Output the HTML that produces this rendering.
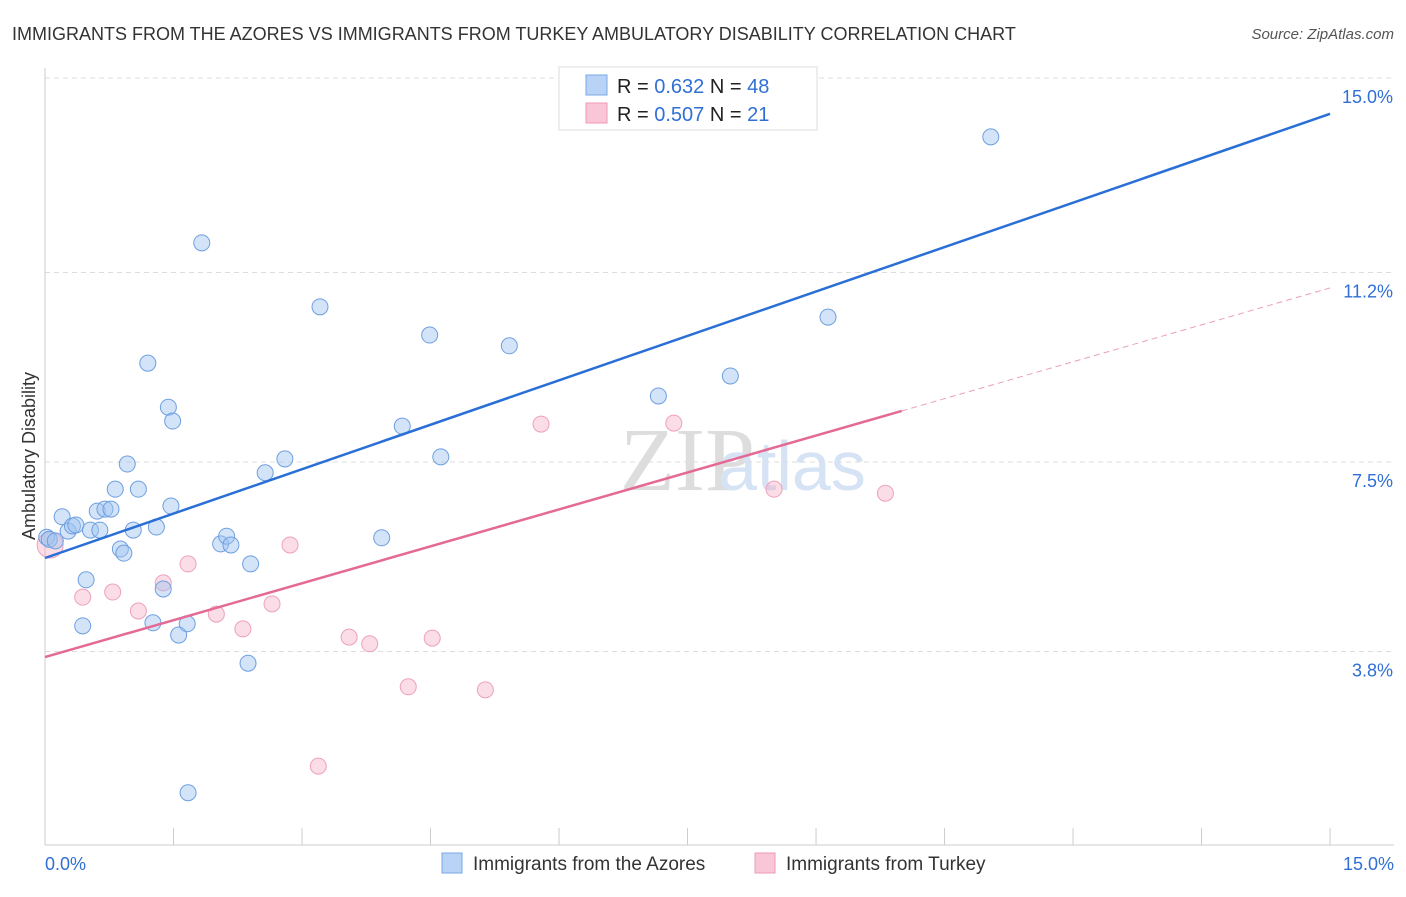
<!DOCTYPE html>
<html><head><meta charset="utf-8"><style>
body{margin:0;background:#fff;font-family:"Liberation Sans",sans-serif}
</style></head><body>
<svg id="c" width="1406" height="892" xmlns="http://www.w3.org/2000/svg" font-family="Liberation Sans, sans-serif">
<text x="12" y="40" font-size="18" fill="#333">IMMIGRANTS FROM THE AZORES VS IMMIGRANTS FROM TURKEY AMBULATORY DISABILITY CORRELATION CHART</text>
<text x="1394" y="39" font-size="15" fill="#555" font-style="italic" text-anchor="end">Source: ZipAtlas.com</text>
<text x="35" y="456" font-size="18" fill="#333" text-anchor="middle" transform="rotate(-90 35 456)">Ambulatory Disability</text>
<text x="620" y="490" font-size="90" fill="#ddd" font-family="Liberation Serif, serif">ZIP</text>
<text x="718" y="490" font-size="70" fill="#d5e3f5">atlas</text>
<g id="grid"></g><g id="pts"></g><g id="lines"></g>
<g>
<rect x="559" y="67" width="258" height="63" fill="#fff" stroke="#ddd"/>
<rect x="586" y="75" width="21" height="20" fill="#b8d3f5" stroke="#7aa8e5"/>
<rect x="586" y="103" width="21" height="20" fill="#f8c6d6" stroke="#ee9ab7"/>
<text x="617" y="93" font-size="20" fill="#222">R = <tspan fill="#2f6fd6">0.632</tspan>   N = <tspan fill="#2f6fd6">48</tspan></text>
<text x="617" y="121" font-size="20" fill="#222">R = <tspan fill="#2f6fd6">0.507</tspan>   N = <tspan fill="#2f6fd6"> 21</tspan></text>
</g>
<g>
<rect x="442" y="853" width="20" height="20" fill="#b8d3f5" stroke="#7aa8e5"/>
<text x="473" y="870" font-size="19" fill="#333">Immigrants from the Azores</text>
<rect x="755" y="853" width="20" height="20" fill="#f8c6d6" stroke="#ee9ab7"/>
<text x="786" y="870" font-size="19" fill="#333">Immigrants from Turkey</text>
</g>
</svg>
<script>
const yTicks=[15.0,11.2,7.5,3.8];
const yTickLabels=["15.0%","11.2%","7.5%","3.8%"];
const xTickLabels=["0.0%","15.0%"];
const blueX=[0.02,0.05,0.12,0.20,0.27,0.32,0.36,0.48,0.44,0.53,0.61,0.64,0.70,0.77,0.82,0.88,0.92,0.96,1.03,1.09,1.20,1.26,1.30,1.38,1.44,1.47,1.49,1.56,1.66,1.67,1.83,2.05,2.12,2.17,2.37,2.40,2.57,2.80,3.21,3.93,4.17,4.49,4.62,5.42,7.16,8.00,9.14,11.04];
const blueY=[6.03,5.99,5.96,6.43,6.15,6.25,6.27,5.20,4.30,6.17,6.54,6.17,6.58,6.58,6.97,5.80,5.72,7.46,6.17,6.97,9.43,4.36,6.23,5.02,8.57,6.64,8.30,4.12,4.34,1.04,11.78,5.90,6.05,5.88,3.57,5.51,7.29,7.56,10.53,6.02,8.20,9.98,7.60,9.77,8.79,9.18,10.33,13.85];
const pinkX=[0.06,0.44,0.79,1.09,1.38,1.67,2.00,2.31,2.65,2.86,3.19,3.55,3.79,4.24,4.52,5.14,5.79,7.34,7.86,8.51,9.81];
const pinkY=[5.88,4.86,4.96,4.59,5.14,5.51,4.53,4.24,4.73,5.88,1.56,4.08,3.95,3.11,4.06,3.05,8.24,8.26,14.51,6.97,6.89];
const blueLine=[5.625,14.30];
const pinkLine=[3.69,10.9];
const pinkSolidEnd=10.0;
const NS="http://www.w3.org/2000/svg";
const X=v=>45+v*85.67, Y=v=>78+(15-v)*51.2;
function mk(p,t,a){const e=document.createElementNS(NS,t);for(const k in a)e.setAttribute(k,a[k]);p.appendChild(e);return e;}
const g=document.getElementById('grid');
yTicks.forEach((t,i)=>{
 const l=mk(g,'line',{x1:45,x2:1394,y1:Y(t),y2:Y(t),stroke:'#ddd','stroke-dasharray':'5,4'});
 
 
 const tx=mk(g,'text',{x:1393,y:Y(t)+25,'font-size':18,fill:'#2f6fd6','text-anchor':'end'});
 tx.textContent=yTickLabels[i];
 
 
});
const ax=mk(g,'line',{x1:45,x2:1394,y1:845,y2:845,stroke:'#ccc'});


const ay=mk(g,'line',{x1:45,x2:45,y1:68,y2:845,stroke:'#ccc'});


for(let i=0;i<=10;i++){const x=X(i*1.5);const t=mk(g,'line',{x1:x,x2:x,y1:828,y2:845,stroke:'#ccc'});
 
 }
[[0,'start',45],[1,'end',1394]].forEach(([i,a,x])=>{const t=mk(g,'text',{x:x,y:870,'font-size':18,fill:'#2f6fd6','text-anchor':a});t.textContent=xTickLabels[i];
 
 });
const p=document.getElementById('pts');
pinkX.forEach((x,i)=>{const c=mk(p,'circle',{cx:X(x),cy:Y(pinkY[i]),r:i==0?13:8,fill:'rgba(244,170,195,0.4)',stroke:'#eea0bb','stroke-width':1});
 
 });
blueX.forEach((x,i)=>{const c=mk(p,'circle',{cx:X(x),cy:Y(blueY[i]),r:8,fill:'rgba(160,195,240,0.45)',stroke:'#6d9fe0','stroke-width':1});
 
 });
const L=document.getElementById('lines');
const bl=mk(L,'line',{x1:X(0),y1:Y(blueLine[0]),x2:X(15),y2:Y(blueLine[1]),stroke:'#2a6fd6','stroke-width':2.5});


const pv=x=>pinkLine[0]+(pinkLine[1]-pinkLine[0])*x/15;
const pl=mk(L,'line',{x1:X(0),y1:Y(pv(0)),x2:X(pinkSolidEnd),y2:Y(pv(pinkSolidEnd)),stroke:'#e46a95','stroke-width':2.5});


const pd=mk(L,'line',{x1:X(pinkSolidEnd),y1:Y(pv(pinkSolidEnd)),x2:X(15),y2:Y(pv(15)),stroke:'#eaa0b8','stroke-width':1,'stroke-dasharray':'6,4'});


</script>
</body></html>
